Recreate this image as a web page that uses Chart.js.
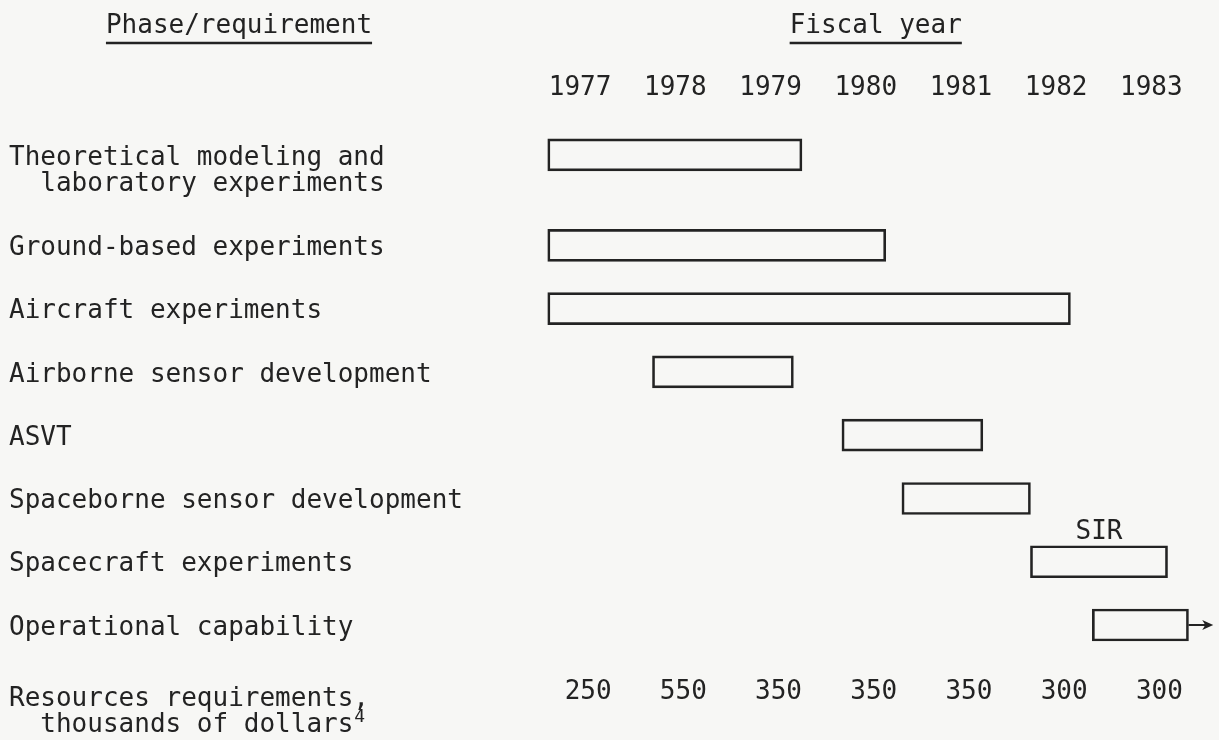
<!DOCTYPE html>
<html>
<head>
<meta charset="utf-8">
<script src="https://cdn.jsdelivr.net/npm/chart.js@4.4.1/dist/chart.umd.min.js"></script>
<style>
  html, body { margin: 0; padding: 0; background: #f7f7f5; }
</style>
</head>
<body>
<canvas id="gantt" width="1219" height="740"></canvas>
<script>
// phases, one bar each (fiscal years, bar from start to end)
const phases = [
    ['Theoretical modeling and', '  laboratory experiments'],
    ['Ground-based experiments'],
    ['Aircraft experiments'],
    ['Airborne sensor development'],
    ['ASVT'],
    ['Spaceborne sensor development'],
    ['Spacecraft experiments'],
    ['Operational capability']
];
const startYear = [1977.16, 1977.16, 1977.16, 1978.26, 1980.25, 1980.88, 1982.23, 1982.88];
const endYear   = [1979.83, 1980.71, 1982.65, 1979.74, 1981.73, 1982.23, 1983.67, 1983.89];
const barNotes  = ['', '', '', '', '', '', 'SIR', ''];
const continuing = [false, false, false, false, false, false, false, true];

const fiscalYears = [1977, 1978, 1979, 1980, 1981, 1982, 1983];
const resources   = [250, 550, 350, 350, 350, 300, 300];
const resourceLabel = ['Resources requirements,', '  thousands of dollars'];
const resourceNote = '4';

const FONT = '"DejaVu Sans Mono", "Liberation Mono", monospace';
const INK = '#232323';

// first row has two text lines so the rest sit a bit lower
function rowPos(i) {
    return i === 0 ? 0 : i + 0.43;
}
const resourceRow = phases.length + 0.5;

function underlined(ctx, text, cx, y) {
    ctx.textAlign = 'center';
    ctx.fillText(text, cx, y);
    const w = ctx.measureText(text).width;
    ctx.beginPath();
    ctx.lineWidth = 2.5;
    ctx.strokeStyle = INK;
    ctx.moveTo(cx - w / 2, y + 17);
    ctx.lineTo(cx + w / 2, y + 17);
    ctx.stroke();
}

const textLayer = {
    id: 'textLayer',
    afterDatasetsDraw(chart) {
        const ctx = chart.ctx;
        const xs = chart.scales.x;
        const ys = chart.scales.y;
        const meta = chart.getDatasetMeta(0);
        ctx.save();
        ctx.fillStyle = INK;
        ctx.textBaseline = 'middle';
        ctx.font = '26px ' + FONT;

        // headers
        underlined(ctx, 'Phase/requirement', 239, 26);
        const yearMid = (xs.getPixelForValue(fiscalYears[0] + 0.5) + xs.getPixelForValue(fiscalYears[fiscalYears.length - 1] + 0.5)) / 2;
        underlined(ctx, 'Fiscal year', yearMid + 10, 26);

        // year labels, centred on each fiscal year
        ctx.textAlign = 'center';
        for (let k = 0; k < fiscalYears.length; k++) {
            ctx.fillText(String(fiscalYears[k]), xs.getPixelForValue(fiscalYears[k] + 0.5), 88);
        }

        // phase labels
        ctx.textAlign = 'left';
        for (let i = 0; i < phases.length; i++) {
            const y = ys.getPixelForValue(rowPos(i)) + 3;
            for (let l = 0; l < phases[i].length; l++) {
                ctx.fillText(phases[i][l], 9, y + l * 26);
            }
        }

        // notes above bars + arrows for ongoing phases
        for (let i = 0; i < phases.length; i++) {
            const bar = meta.data[i];
            const right = Math.max(bar.x, bar.base);
            const left = Math.min(bar.x, bar.base);
            if (barNotes[i]) {
                ctx.textAlign = 'center';
                ctx.fillText(barNotes[i], (left + right) / 2, bar.y - bar.height / 2 - 13);
            }
            if (continuing[i]) {
                const tip = xs.getPixelForValue(endYear[i] + 0.26);
                ctx.beginPath();
                ctx.lineWidth = 2;
                ctx.strokeStyle = INK;
                ctx.moveTo(right, bar.y);
                ctx.lineTo(tip - 4, bar.y);
                ctx.stroke();
                ctx.beginPath();
                ctx.moveTo(tip, bar.y);
                ctx.lineTo(tip - 11, bar.y - 5);
                ctx.lineTo(tip - 8, bar.y);
                ctx.lineTo(tip - 11, bar.y + 5);
                ctx.closePath();
                ctx.fill();
            }
        }

        // resource row
        const ry = ys.getPixelForValue(resourceRow);
        ctx.textAlign = 'left';
        ctx.fillText(resourceLabel[0], 9, ry + 7);
        ctx.fillText(resourceLabel[1], 9, ry + 33);
        const noteX = 9 + ctx.measureText(resourceLabel[1]).width;
        ctx.textAlign = 'center';
        for (let k = 0; k < resources.length; k++) {
            ctx.fillText(String(resources[k]), xs.getPixelForValue(fiscalYears[k] + 0.5) + 8, ry);
        }
        ctx.font = '18px ' + FONT;
        ctx.textAlign = 'left';
        ctx.fillText(resourceNote, noteX + 1, ry + 25);
        ctx.restore();
    }
};

function mkGantt() {
    const rows = [];
    for (let i = 0; i < phases.length; i++) {
        rows.push({ x: [startYear[i], endYear[i]], y: rowPos(i) });
    }

    const ctx = document.getElementById('gantt');
    const data = {
        datasets: [
            {
                label: 'phases',
                data: rows,
                backgroundColor: 'rgba(0,0,0,0)',
                borderColor: INK,
                borderWidth: 2,
                borderSkipped: false,
                barThickness: 32
            }
        ]
    };
    const options = {
        responsive: false,
        animation: false,
        indexAxis: 'y',
        layout: { padding: { left: 523, right: 1, top: 60, bottom: 3 } },
        plugins: { legend: { display: false }, tooltip: { enabled: false } },
        scales: {
            x: { type: 'linear', min: 1976.9, max: 1984.2, offset: false, display: false },
            y: { type: 'linear', min: -1.5, max: 9.2, reverse: true, offset: false, grid: { offset: false }, display: false }
        }
    };

    new Chart(ctx, {
        type: 'bar',
        data: data,
        options: options,
        plugins: [textLayer]
    });
}

mkGantt();
</script>
</body>
</html>
